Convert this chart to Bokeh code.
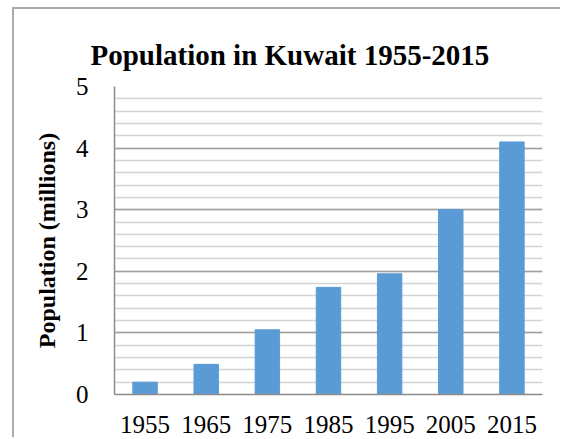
from bokeh.plotting import figure
from bokeh.embed import file_html
from bokeh.resources import INLINE
from bokeh.models import SingleIntervalTicker, Range1d, Title

years = ["1955", "1965", "1975", "1985", "1995", "2005", "2015"]
population = [0.20, 0.49, 1.05, 1.74, 1.96, 3.00, 4.10]
y_ticks = [0, 1, 2, 3, 4, 5]

SERIF = "Liberation Serif"

p = figure(x_range=years, y_range=Range1d(0, 5),
           width=548, height=430,
           output_backend="svg", toolbar_location=None,
           min_border_left=100, min_border_right=20,
           min_border_top=77, min_border_bottom=45)
p.styles = {"margin-left": "14px", "margin-top": "9px",
            "box-shadow": "-2px -2px 0px 0px #ABABAB"}

t = Title(text="Population in Kuwait 1955-2015", align="left", offset=-24,
          text_font=SERIF, text_font_size="29px", text_font_style="bold",
          text_color="black", standoff=32)
p.add_layout(t, "above")

p.vbar(x=years, top=population, width=0.4, color="#5B9BD5")

p.outline_line_color = None
p.background_fill_color = "white"
p.border_fill_color = "white"

p.xgrid.grid_line_color = None
p.ygrid.ticker = SingleIntervalTicker(interval=1, num_minor_ticks=5)
p.ygrid.grid_line_color = "#A0A0A0"
p.ygrid.grid_line_width = 1.5
p.ygrid.minor_grid_line_color = "#D4D4D4"
p.ygrid.minor_grid_line_width = 1.5

p.yaxis.ticker = SingleIntervalTicker(interval=1, num_minor_ticks=5)
p.yaxis.axis_line_color = "#8C8C8C"
p.yaxis.axis_line_width = 1.5
p.yaxis.major_tick_line_color = None
p.yaxis.minor_tick_line_color = None
p.yaxis.major_label_text_font = SERIF
p.yaxis.major_label_text_font_size = "25px"
p.yaxis.major_label_text_color = "black"
p.yaxis.major_label_standoff = 20
p.yaxis.axis_label = "Population (millions)"
p.yaxis.axis_label_text_font = SERIF
p.yaxis.axis_label_text_font_size = "24px"
p.yaxis.axis_label_text_font_style = "bold"
p.yaxis.axis_label_text_color = "black"
p.yaxis.axis_label_standoff = 13

p.xaxis.axis_line_color = "#8C8C8C"
p.xaxis.axis_line_width = 1.5
p.xaxis.major_tick_line_color = None
p.xaxis.minor_tick_line_color = None
p.xaxis.major_label_text_font = SERIF
p.xaxis.major_label_text_font_size = "25px"
p.xaxis.major_label_text_color = "black"
p.xaxis.major_label_standoff = 15

open("out.html", "w").write(file_html(p, INLINE))
